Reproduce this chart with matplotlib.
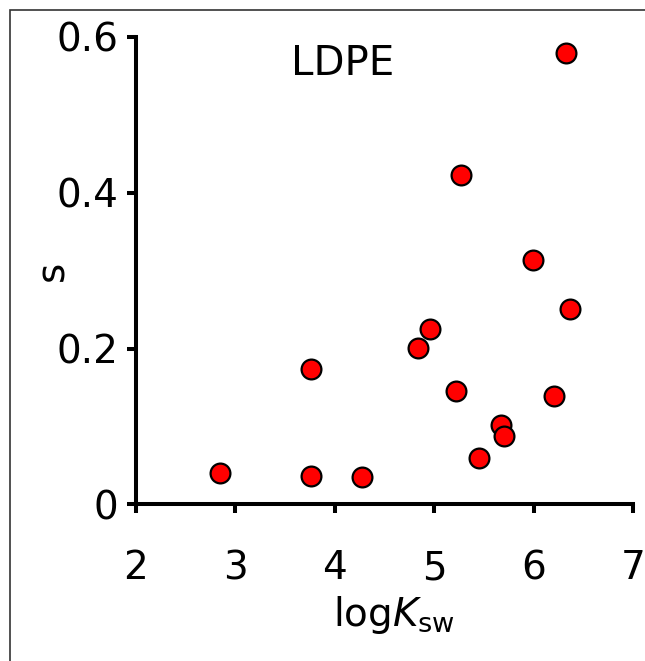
import matplotlib
matplotlib.use("Agg")
import matplotlib.pyplot as plt
from matplotlib.patches import Rectangle

logK = [2.845, 3.76, 3.76, 4.27, 4.834, 4.958, 5.216, 5.267, 5.454, 5.672, 5.699, 5.997, 6.208, 6.33, 6.369]
s_vals = [0.040, 0.036, 0.174, 0.035, 0.201, 0.225, 0.146, 0.423, 0.060, 0.102, 0.088, 0.314, 0.139, 0.580, 0.251]
xticks = [2, 3, 4, 5, 6, 7]
yticks = [0, 0.2, 0.4, 0.6]
ytick_labels = ["0", "0.2", "0.4", "0.6"]

plt.rcParams['font.family'] = ['DejaVu Sans']
plt.rcParams['mathtext.fontset'] = 'dejavusans'

W, H = 645, 661
fig = plt.figure(figsize=(W / 100, H / 100), dpi=100)
ax = fig.add_axes([136 / W, 1 - 504.3 / H, (633 - 136) / W, (504.3 - 37) / H])

ax.scatter(logK, s_vals, s=20 ** 2 * 0.72 ** 2 * 0.98, c='#ff0000', edgecolors='black',
           linewidths=1.6, zorder=3, clip_on=False)

ax.set_xlim(2, 7)
ax.set_ylim(0, 0.6)
ax.set_xticks(xticks)
ax.set_xticklabels([str(v) for v in xticks])
ax.set_yticks(yticks)
ax.set_yticklabels(ytick_labels)

for side in ['top', 'right']:
    ax.spines[side].set_visible(False)
for side in ['left', 'bottom']:
    ax.spines[side].set_linewidth(2.9)
    ax.spines[side].set_capstyle('projecting')

ax.tick_params(axis='both', direction='out', length=6.5, width=2.9, labelsize=28)
ax.tick_params(axis='x', pad=26)
ax.tick_params(axis='y', pad=6)

ax.set_ylabel('s', fontsize=28)
ax.yaxis.set_label_coords(-0.131, 0.5)
ax.set_xlabel(r'log$\mathit{K}_{\mathrm{sw}}$', fontsize=28)
ax.xaxis.set_label_coords(0.52, -0.192)

ax.text(342.5 / W, 1 - 64 / H, 'LDPE', fontsize=29, ha='center', va='center',
        transform=fig.transFigure)

# outer frame
fig.patches.append(Rectangle((10 / W, -0.1), 1.2, 1 - 10 / H + 0.1, transform=fig.transFigure,
                             fill=False, edgecolor='#333333', linewidth=1.2, figure=fig))

fig.savefig('out.png', dpi=100)
